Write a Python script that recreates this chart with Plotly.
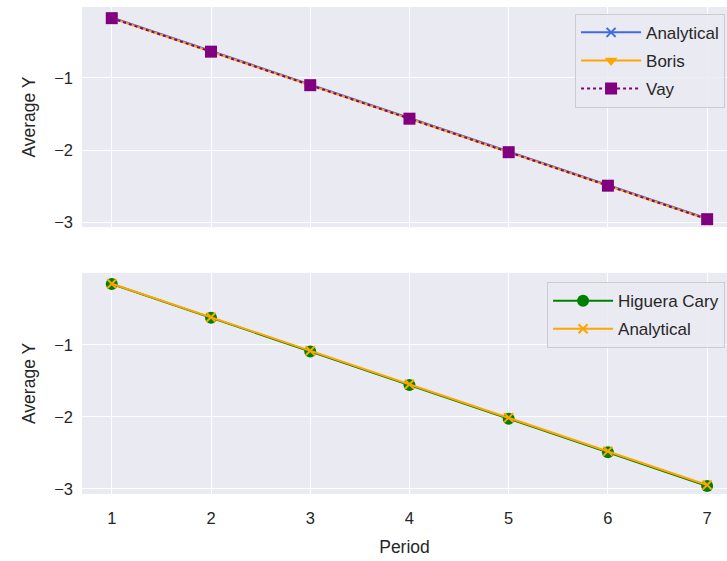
import plotly.graph_objects as go
from plotly.subplots import make_subplots

periods = [1, 2, 3, 4, 5, 6, 7]
analytical = [-0.16, -0.625, -1.09, -1.555, -2.02, -2.485, -2.95]
boris = [-0.17, -0.635, -1.10, -1.565, -2.03, -2.495, -2.96]
vay = [-0.17, -0.635, -1.10, -1.565, -2.03, -2.495, -2.96]
higuera_cary = [-0.155, -0.622, -1.09, -1.557, -2.025, -2.49, -2.96]
analytical2 = [-0.15, -0.615, -1.08, -1.545, -2.01, -2.475, -2.945]

fig = make_subplots(rows=2, cols=1, shared_xaxes=True)

fig.add_trace(go.Scatter(x=periods, y=analytical, name="Analytical", mode="lines+markers",
                         line=dict(color="royalblue", width=2),
                         marker=dict(symbol="x-thin", size=9, line=dict(color="royalblue", width=2)),
                         legend="legend", legendgroup="a"), row=1, col=1)
fig.add_trace(go.Scatter(x=periods, y=boris, name="Boris", mode="lines+markers",
                         line=dict(color="orange", width=2),
                         marker=dict(symbol="triangle-down", size=11, color="orange"),
                         legend="legend", legendgroup="b"), row=1, col=1)
fig.add_trace(go.Scatter(x=periods, y=vay, name="Vay", mode="lines+markers",
                         line=dict(color="purple", width=2, dash="dot"),
                         marker=dict(symbol="square", size=12, color="purple"),
                         legend="legend", legendgroup="c"), row=1, col=1)

fig.add_trace(go.Scatter(x=periods, y=higuera_cary, name="Higuera Cary", mode="lines+markers",
                         line=dict(color="green", width=2),
                         marker=dict(symbol="circle", size=12, color="green"),
                         legend="legend2", legendgroup="d"), row=2, col=1)
fig.add_trace(go.Scatter(x=periods, y=analytical2, name="Analytical", mode="lines+markers",
                         line=dict(color="orange", width=2),
                         marker=dict(symbol="x-thin", size=9, line=dict(color="orange", width=2)),
                         legend="legend2", legendgroup="e"), row=2, col=1)

axis_common = dict(showgrid=True, gridcolor="white", gridwidth=1.3, zeroline=False,
                   showline=False, ticks="", tickfont=dict(size=16.5, color="#262626"))

fig.update_xaxes(range=[0.7, 7.2], tickvals=periods, ticklabelstandoff=12, **axis_common)
fig.update_xaxes(title=dict(text="Period", font=dict(size=17.5, color="#262626"), standoff=15), row=2, col=1)
fig.update_yaxes(tickvals=[-1, -2, -3], ticklabelstandoff=8, **axis_common)
fig.update_yaxes(range=[-3.07, -0.015], title=dict(text="Average Y", font=dict(size=17.5, color="#262626"), standoff=14),
                 row=1, col=1)
fig.update_yaxes(range=[-3.07, 0.0], title=dict(text="Average Y", font=dict(size=17.5, color="#262626"), standoff=14),
                 row=2, col=1)

legend_common = dict(xanchor="right", yanchor="top", traceorder="grouped", tracegroupgap=3,
                     bgcolor="rgba(234,234,242,0.85)", bordercolor="#CCCCCC", borderwidth=1,
                     font=dict(size=17, color="#262626"), itemwidth=60)

fig.update_layout(
    width=727, height=561,
    margin=dict(l=82, r=0, t=7, b=67),
    paper_bgcolor="white", plot_bgcolor="#EAEAF2",
    font=dict(family="Liberation Sans, Arial, sans-serif", color="#262626"),
    xaxis=dict(domain=[0, 1]),
    yaxis=dict(domain=[0.548, 1.0]),
    yaxis2=dict(domain=[0.0, 0.454]),
    legend=dict(x=0.997, y=0.986, **legend_common),
    legend2=dict(x=0.997, y=0.435, **legend_common),
)

fig.write_html("out.html")
